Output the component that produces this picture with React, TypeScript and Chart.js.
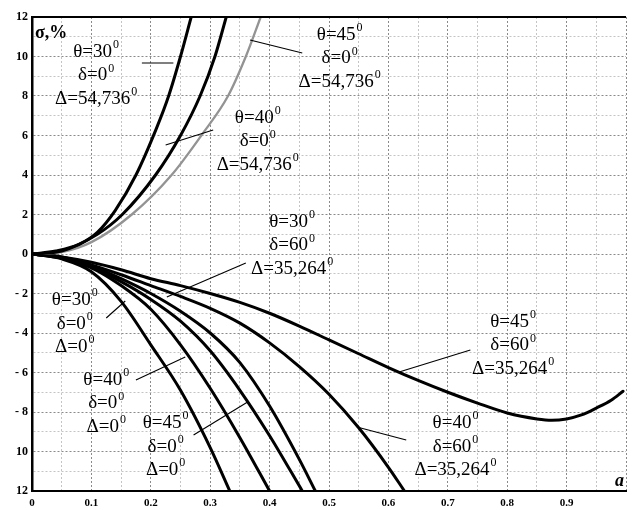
import { useEffect, useRef } from 'react';
import { Chart, registerables } from 'chart.js';

Chart.register(...registerables);

// ---- data (a, sigma %) ----
const up30X = [0, 0.04, 0.08, 0.11, 0.14, 0.175, 0.21, 0.23, 0.25, 0.268];
const up30Y = [0, 0.15, 0.5, 1.1, 2.2, 4, 6.4, 8, 10, 12];
const up40X = [0, 0.05, 0.11, 0.152, 0.208, 0.25, 0.283, 0.308, 0.327];
const up40Y = [0, 0.15, 1, 2, 4, 6, 8, 10, 12];
const up45X = [0, 0.05, 0.1, 0.168, 0.235, 0.285, 0.33, 0.36, 0.385];
const up45Y = [0, 0.1, 0.6, 2, 4, 6, 8, 10, 12];

const lowFX = [0, 0.05, 0.1, 0.15, 0.2, 0.25, 0.3, 0.333];
const lowFY = [0, -0.25, -0.9, -2.4, -4.6, -6.9, -9.8, -12];
const lowEX = [0, 0.05, 0.1, 0.15, 0.2, 0.25, 0.3, 0.35, 0.4];
const lowEY = [0, -0.2, -0.7, -1.6, -2.8, -4.6, -6.8, -9.3, -12];
const lowDX = [0, 0.05, 0.1, 0.15, 0.2, 0.25, 0.3, 0.35, 0.4, 0.455];
const lowDY = [0, -0.2, -0.65, -1.4, -2.3, -3.4, -4.9, -6.9, -9.2, -12];
const lowCX = [0, 0.05, 0.1, 0.15, 0.2, 0.25, 0.3, 0.35, 0.4, 0.45, 0.477];
const lowCY = [0, -0.18, -0.6, -1.25, -2.0, -2.9, -4.0, -5.5, -7.7, -10.4, -12];
const lowBX = [0, 0.05, 0.1, 0.15, 0.2, 0.25, 0.3, 0.35, 0.4, 0.45, 0.5, 0.55, 0.6, 0.627];
const lowBY = [0, -0.15, -0.55, -1.05, -1.6, -2.15, -2.75, -3.5, -4.5, -5.7, -7.1, -8.8, -10.8, -12];
const lowAX = [0, 0.05, 0.1, 0.15, 0.2, 0.25, 0.3, 0.35, 0.4, 0.45, 0.5, 0.55, 0.6, 0.65, 0.7, 0.75, 0.8, 0.85, 0.875, 0.9, 0.925, 0.95, 0.975, 0.995];
const lowAY = [0, -0.15, -0.42, -0.8, -1.25, -1.6, -2.0, -2.45, -3.0, -3.65, -4.35, -5.05, -5.75, -6.4, -7.0, -7.55, -8.05, -8.35, -8.42, -8.35, -8.15, -7.8, -7.4, -6.95];

const X_TICK_LABELS = ['0', '0.1', '0.2', '0.3', '0.4', '0.5', '0.6', '0.7', '0.8', '0.9', ''];
const Y_TICK_VALUES = [12, 10, 8, 6, 4, 2, 0, -2, -4, -6, -8, -10, -12];
const Y_TICK_LABELS = ['12', '10', '8', '6', '4', '2', '0', '- 2', '- 4', '- 6', '- 8', '10', '12'];

const Y_TITLE = 'σ,%';
const X_TITLE = 'a';

// annotation texts: each line = [main, superscript]
const ANNOTATIONS = [
  { lines: [['θ=30', '0'], ['δ=0', '0'], ['Δ=54,736', '0']], at: [0.108, 10.23], leader: [[0.185, 9.67], [0.238, 9.67]] },
  { lines: [['θ=40', '0'], ['δ=0', '0'], ['Δ=54,736', '0']], at: [0.38, 6.89], leader: [[0.305, 6.28], [0.225, 5.52]] },
  { lines: [['θ=45', '0'], ['δ=0', '0'], ['Δ=54,736', '0']], at: [0.518, 11.09], leader: [[0.455, 10.18], [0.367, 10.84]] },
  { lines: [['θ=30', '0'], ['δ=60', '0'], ['Δ=35,264', '0']], at: [0.438, 1.62], leader: [[0.36, -0.46], [0.227, -2.18]] },
  { lines: [['θ=30', '0'], ['δ=0', '0'], ['Δ=0', '0']], at: [0.072, -2.33], leader: [[0.125, -3.24], [0.157, -2.38]] },
  { lines: [['θ=40', '0'], ['δ=0', '0'], ['Δ=0', '0']], at: [0.125, -6.38], leader: [[0.175, -6.38], [0.258, -5.22]] },
  { lines: [['θ=45', '0'], ['δ=0', '0'], ['Δ=0', '0']], at: [0.225, -8.56], leader: [[0.272, -9.16], [0.363, -7.49]] },
  { lines: [['θ=45', '0'], ['δ=60', '0'], ['Δ=35,264', '0']], at: [0.81, -3.44], leader: [[0.738, -4.86], [0.618, -5.97]] },
  { lines: [['θ=40', '0'], ['δ=60', '0'], ['Δ=35,264', '0']], at: [0.713, -8.56], leader: [[0.63, -9.42], [0.547, -8.76]] },
];

const SERIF = '"Liberation Serif", "Times New Roman", serif';

function pts(xs: number[], ys: number[]) {
  return xs.map((x, i) => ({ x, y: ys[i] }));
}

const overlayPlugin = {
  id: 'overlay',
  afterDatasetsDraw(chart: any) {
    const { ctx, chartArea, scales } = chart;
    const xs = scales.x;
    const ys = scales.y;
    ctx.save();
    // top frame line
    ctx.strokeStyle = '#000';
    ctx.lineWidth = 2;
    ctx.beginPath();
    ctx.moveTo(chartArea.left, chartArea.top);
    ctx.lineTo(chartArea.right, chartArea.top);
    ctx.stroke();

    // leaders
    ctx.lineWidth = 1.1;
    for (const an of ANNOTATIONS) {
      const [p1, p2] = an.leader;
      ctx.beginPath();
      ctx.moveTo(xs.getPixelForValue(p1[0]), ys.getPixelForValue(p1[1]));
      ctx.lineTo(xs.getPixelForValue(p2[0]), ys.getPixelForValue(p2[1]));
      ctx.stroke();
    }

    // texts
    ctx.fillStyle = '#000';
    ctx.textBaseline = 'middle';
    ctx.textAlign = 'left';
    const mainFont = `19px ${SERIF}`;
    const supFont = `12px ${SERIF}`;
    const lineH = 23.5;
    for (const an of ANNOTATIONS) {
      const cx = xs.getPixelForValue(an.at[0]);
      const cy0 = ys.getPixelForValue(an.at[1]);
      an.lines.forEach((ln: string[], i: number) => {
        const cy = cy0 + i * lineH;
        ctx.font = mainFont;
        const w1 = ctx.measureText(ln[0]).width;
        ctx.font = supFont;
        const w2 = ctx.measureText(ln[1]).width;
        const x0 = cx - (w1 + w2 + 1) / 2;
        ctx.font = mainFont;
        ctx.fillText(ln[0], x0, cy);
        ctx.font = supFont;
        ctx.fillText(ln[1], x0 + w1 + 1, cy - 7);
      });
    }

    // axis titles
    ctx.font = `bold 18px ${SERIF}`;
    ctx.textAlign = 'left';
    ctx.fillText(Y_TITLE, chartArea.left + 3, chartArea.top + 16);
    ctx.font = `bold italic 18px ${SERIF}`;
    ctx.textAlign = 'right';
    ctx.fillText(X_TITLE, chartArea.right - 2, chartArea.bottom - 10);
    ctx.restore();
  },
};

export default function App() {
  const ref = useRef<HTMLCanvasElement | null>(null);
  useEffect(() => {
    if (!ref.current) return;
    const black = { borderColor: '#000', borderWidth: 3 };
    const chart = new Chart(ref.current, {
      type: 'line',
      data: {
        datasets: [
          { label: 'θ=30 δ=0 Δ=54,736', data: pts(up30X, up30Y), ...black },
          { label: 'θ=40 δ=0 Δ=54,736', data: pts(up40X, up40Y), ...black },
          { label: 'θ=45 δ=0 Δ=54,736', data: pts(up45X, up45Y), borderColor: '#939393', borderWidth: 2.3 },
          { label: 'θ=30 δ=0 Δ=0', data: pts(lowFX, lowFY), ...black },
          { label: 'θ=40 δ=0 Δ=0', data: pts(lowEX, lowEY), ...black },
          { label: 'θ=45 δ=0 Δ=0', data: pts(lowDX, lowDY), ...black },
          { label: 'θ=30 δ=60 Δ=35,264', data: pts(lowCX, lowCY), ...black },
          { label: 'θ=40 δ=60 Δ=35,264', data: pts(lowBX, lowBY), ...black },
          { label: 'θ=45 δ=60 Δ=35,264', data: pts(lowAX, lowAY), ...black },
        ] as any,
      },
      options: {
        animation: false,
        responsive: false,
        devicePixelRatio: 1,
        layout: { padding: { top: 17, right: 0, left: 0, bottom: 0 } },
        elements: {
          point: { radius: 0 },
          line: { cubicInterpolationMode: 'monotone', fill: false, borderCapStyle: 'round', borderJoinStyle: 'round' },
        },
        plugins: { legend: { display: false }, tooltip: { enabled: false } },
        scales: {
          x: {
            type: 'linear',
            min: 0,
            max: 1,
            afterFit: (s: any) => { s.height = 19; },
            ticks: {
              stepSize: 0.05,
              autoSkip: false,
              maxRotation: 0,
              padding: 6,
              color: '#000',
              font: { family: SERIF, size: 11, weight: 'bold' },
              callback: (v: any) => {
                const k = Math.round(Number(v) * 100);
                if (k % 10 !== 0) return '';
                return X_TICK_LABELS[k / 10] ?? '';
              },
            },
            grid: {
              drawTicks: false,
              lineWidth: 1,
              color: (c: any) => {
                const v = c.tick ? Math.round(c.tick.value * 100) : 0;
                return v % 10 === 0 ? '#8a8a8a' : '#c4c4c4';
              },
            },
            border: { color: '#000', width: 2, dash: [2, 2] },
          },
          y: {
            type: 'linear',
            min: -12,
            max: 12,
            afterFit: (s: any) => { s.width = 32; },
            ticks: {
              stepSize: 1,
              autoSkip: false,
              padding: 4,
              color: '#000',
              font: { family: SERIF, size: 12, weight: 'bold' },
              callback: (v: any) => {
                const idx = Y_TICK_VALUES.indexOf(Math.round(Number(v)));
                return idx >= 0 ? Y_TICK_LABELS[idx] : '';
              },
            },
            grid: {
              drawTicks: false,
              lineWidth: 1,
              color: (c: any) => {
                const v = c.tick ? Math.round(c.tick.value) : 0;
                return v % 2 === 0 ? '#8a8a8a' : '#c4c4c4';
              },
            },
            border: { color: '#000', width: 2.5, dash: [2, 2] },
          },
        },
      } as any,
      plugins: [overlayPlugin],
    });
    return () => chart.destroy();
  }, []);

  return (
    <div style={{ position: 'fixed', left: 0, top: 0, width: 632, height: 510, background: '#fff' }}>
      <canvas ref={ref} width={632} height={510} style={{ display: 'block', width: 632, height: 510 }} />
    </div>
  );
}
